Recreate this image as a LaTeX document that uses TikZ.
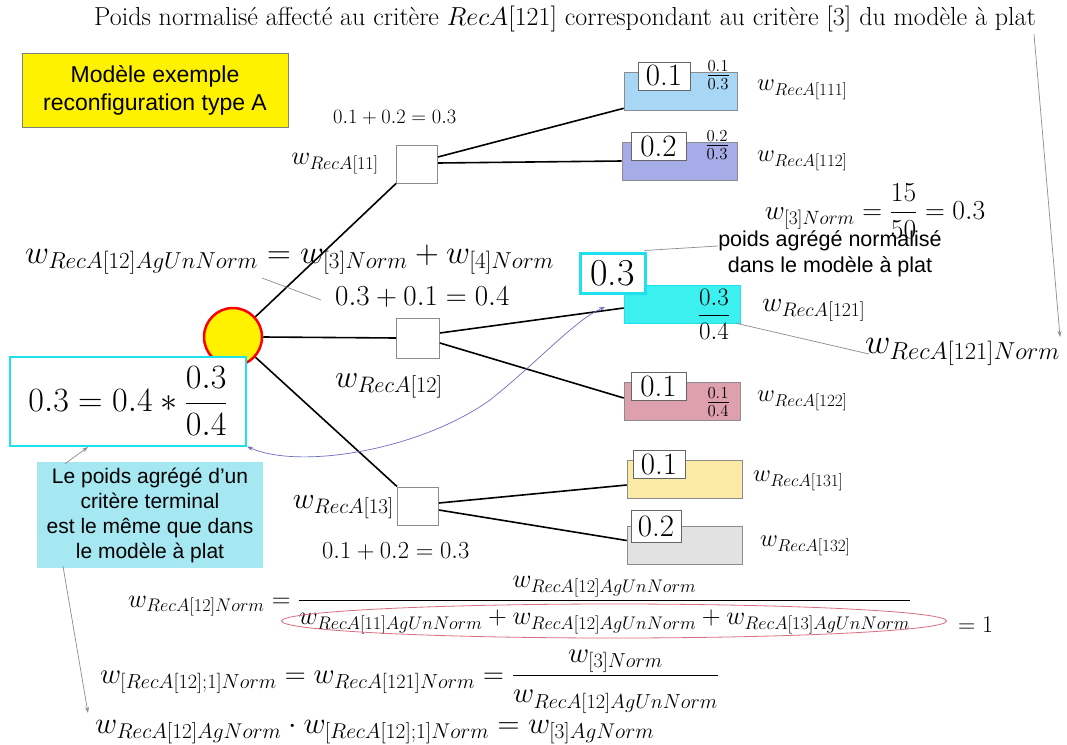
\RequirePackage{fix-cm}
\documentclass[tikz,border=0pt]{standalone}
\usepackage{amsmath}
\usepackage{fontspec}
\newfontfamily\sansf{Liberation Sans}
\usetikzlibrary{shapes.geometric,arrows.meta,calc}
\newcommand\fsz[1]{\fontsize{#1}{#1}\selectfont}
\definecolor{cyanb}{RGB}{30,225,235}
\definecolor{c111}{RGB}{168,214,245}
\definecolor{c112}{RGB}{165,172,232}
\definecolor{c121}{RGB}{60,240,240}
\definecolor{c122}{RGB}{222,160,172}
\definecolor{c131}{RGB}{250,234,165}
\definecolor{c132}{RGB}{226,226,226}
\definecolor{callout}{RGB}{165,232,242}
\definecolor{curvec}{RGB}{110,110,190}
\definecolor{ellc}{RGB}{215,110,130}
\tikzset{
  sq/.style={draw=black!45, fill=white, minimum width=41, minimum height=38, inner sep=0, line width=0.8},
  leaf/.style={draw=black!45, line width=0.6, minimum width=115, minimum height=38, inner sep=0},
  nb/.style={draw=black!60, fill=white, minimum width=52, minimum height=28, inner sep=1, font=\fsz{31}},
  lab/.style={anchor=west, inner sep=0},
  edge/.style={line width=1.6, black},
  thin/.style={draw=black!45, line width=0.7},
}
\begin{document}
\begin{tikzpicture}[x=1pt,y=-1pt]
\fill[white] (0,0) rectangle (1067,744);
\useasboundingbox (0,0) rectangle (1067,744);

% title
\node[font=\fsz{26}, inner sep=0] (title) at (565,19) {Poids normalisé affecté au critère $RecA[121]$ correspondant au critère [3] du modèle à plat};

% yellow box
\node[draw=black!50, fill=yellow, minimum width=266, minimum height=74, align=center,
      font=\sansf\fontsize{23}{28}\selectfont] (ybox) at (155,90) {Modèle exemple\\reconfiguration type A};

% root and intermediate nodes
\node[circle, draw=red, line width=2.5, fill=yellow, minimum size=58, inner sep=0] (root) at (233,337) {};
\node[sq] (s11) at (417,164) {};
\node[sq, minimum width=43, minimum height=40] (s12) at (418,338) {};
\node[sq] (s13) at (418,506) {};

% leaf boxes
\node[leaf, fill=c111, minimum width=113] (b111) at (680.5,91) {};
\node[leaf, fill=c112] (b112) at (679.5,161) {};
\node[leaf, fill=c121, draw=cyanb, minimum width=116] (b121) at (682,304) {};
\node[leaf, fill=c122, minimum width=116] (b122) at (682,401.5) {};
\node[leaf, fill=c131] (b131) at (684.5,479) {};
\node[leaf, fill=c132] (b132) at (684.5,545.5) {};

% number boxes
\node[nb] (n111) at (664,76) {0.1};
\node[nb, minimum width=55] (n112) at (658.5,146.5) {0.2};
\node[draw=cyanb, line width=3, fill=white, minimum width=65, minimum height=40, inner sep=1, font=\fsz{38}] (n121) at (612.5,273) {0.3};
\node[nb, minimum width=55] (n122) at (658.5,386.5) {0.1};
\node[nb] (n131) at (659,464) {0.1};
\node[nb, minimum width=50, minimum height=32] (n132) at (656,526) {0.2};

% fractions
\node[inner sep=0, font=\fsz{24}] (f111) at (718,75) {$\frac{0.1}{0.3}$};
\node[inner sep=0, font=\fsz{24}] (f112) at (717,145) {$\frac{0.2}{0.3}$};
\node[inner sep=0, font=\fsz{25}] (f121) at (714,314) {$\dfrac{0.3}{0.4}$};
\node[inner sep=0, font=\fsz{24}] (f122) at (718,402) {$\frac{0.1}{0.4}$};

% leaf labels
\node[lab, font=\fsz{24.5}] (w111) at (757,90) {$w_{RecA[111]}$};
\node[lab, font=\fsz{24.5}] (w112) at (757,161) {$w_{RecA[112]}$};
\node[lab, font=\fsz{28}] (w121) at (762,310) {$w_{RecA[121]}$};
\node[lab, font=\fsz{24.5}] (w122) at (757,401) {$w_{RecA[122]}$};
\node[lab, font=\fsz{24.5}] (w131) at (753,481) {$w_{RecA[131]}$};
\node[lab, font=\fsz{24.5}] (w132) at (760,546) {$w_{RecA[132]}$};
\node[lab, font=\fsz{35}] (w121n) at (865,352) {$w_{RecA[121]Norm}$};

% intermediate labels
\node[anchor=east, inner sep=0, font=\fsz{26}] (w11) at (379,164) {$w_{RecA[11]}$};
\node[inner sep=0, font=\fsz{32}] (w12) at (389,386) {$w_{RecA[12]}$};
\node[anchor=east, inner sep=0, font=\fsz{30}] (w13) at (394,507) {$w_{RecA[13]}$};

\node[anchor=base west, inner sep=0, font=\fsz{20.5}] (sum11) at (333,123) {$0.1+0.2=0.3$};
\node[anchor=base west, inner sep=0, font=\fsz{29}] (sum12) at (335,305) {$0.3+0.1=0.4$};
\node[anchor=base west, inner sep=0, font=\fsz{24.5}] (sum13) at (322,558) {$0.1+0.2=0.3$};

% formulas
\node[anchor=base west, inner sep=0, font=\fsz{33}] (agun) at (25,263) {$w_{RecA[12]AgUnNorm} = w_{[3]Norm} + w_{[4]Norm}$};
\node[inner sep=0, font=\fsz{27.5}] (w3n) at (875,211) {$w_{[3]Norm} = \dfrac{15}{50} = 0.3$};
\node[align=center, inner sep=0, font=\sansf\fontsize{21.5}{26}\selectfont] (poids) at (830,254) {poids agrégé normalisé\\dans le modèle à plat};

% left box and callout
\node[draw=cyanb, line width=2, fill=white, minimum width=236, minimum height=89, inner sep=0, font=\fsz{34}] (lbox) at (128,401) {$0.3 = 0.4 * \dfrac{0.3}{0.4}$};
\node[fill=callout, minimum width=226, minimum height=106, align=center, inner sep=0,
      font=\sansf\fontsize{21}{25}\selectfont] (call) at (150,515) {Le poids agrégé d’un\\critère terminal\\est le même que dans\\le modèle à plat};

% bottom formulas
\node[anchor=base west, inner sep=0, font=\fsz{26}] (F1) at (128,607) {$w_{RecA[12]Norm} = \dfrac{w_{RecA[12]AgUnNorm}}{w_{RecA[11]AgUnNorm} + w_{RecA[12]AgUnNorm} + w_{RecA[13]AgUnNorm}}$};
\node[ellipse, draw=ellc, line width=0.8, minimum width=665, minimum height=34, inner sep=0] (ell) at (614,621) {};
\node[anchor=base west, inner sep=0, font=\fsz{24}] (eq1) at (958,632) {$=1$};
\node[anchor=base west, inner sep=0, font=\fsz{29}] (F2) at (100,683) {$w_{[RecA[12];1]Norm} = w_{RecA[121]Norm} = \dfrac{w_{[3]Norm}}{w_{RecA[12]AgUnNorm}}$};
\node[anchor=base west, inner sep=0, font=\fsz{30.5}] (F3) at (95,733) {$w_{RecA[12]AgNorm} \cdot w_{[RecA[12];1]Norm} = w_{[3]AgNorm}$};

% tree edges
\draw[edge] (root.42) -- (s11.south west);
\draw[edge] (root.east) -- (s12.west);
\draw[edge] (root.-42) -- (s13.north west);
\draw[edge] ([yshift=7]s11.east) -- ([yshift=2]b111.south west);
\draw[edge] ([yshift=1]s11.east) -- (b112.west);
\draw[edge] ([yshift=5]s12.east) -- ([yshift=-4]b121.west);
\draw[edge] ([yshift=-5]s12.east) -- ([yshift=3.5]b122.west);
\draw[edge] ([yshift=3]s13.east) -- ([yshift=-6]b131.west);
\draw[edge] ([yshift=-4]s13.east) -- ([yshift=5]b132.west);

% thin connectors
\coordinate (tA) at (1034,34);
\coordinate (tB) at (1060,337);
\draw[thin, -{Stealth[length=6,width=4]}] (tA) -- (tB);
\coordinate (ag1) at (262,278);
\coordinate (ag2) at (321,300);
\draw[thin] (ag1) -- (ag2);
\draw[thin] ([xshift=-2,yshift=1]n121.north east) -- ([yshift=8]poids.west);
\draw[thin] ([xshift=-4]b121.south east) -- ([xshift=4,yshift=-2]w121n.west);
\coordinate (cvR) at (605,307);
\draw[curvec, line width=0.7, {Stealth[length=6,width=4]}-{Stealth[length=6,width=4]}] (lbox.south east) .. controls (300,470) and (420,450) .. (490,400) .. controls (540,360) and (575,320) .. (cvR);
\coordinate (cA) at (88,447);
\draw[thin, -{Stealth[length=6,width=4]}] ([xshift=-85,yshift=-2]call.north) -- (cA);
\coordinate (cB) at (88,713);
\draw[thin, -{Stealth[length=6,width=4]}] ([xshift=-87,yshift=2]call.south) -- (cB);
\end{tikzpicture}
\end{document}
